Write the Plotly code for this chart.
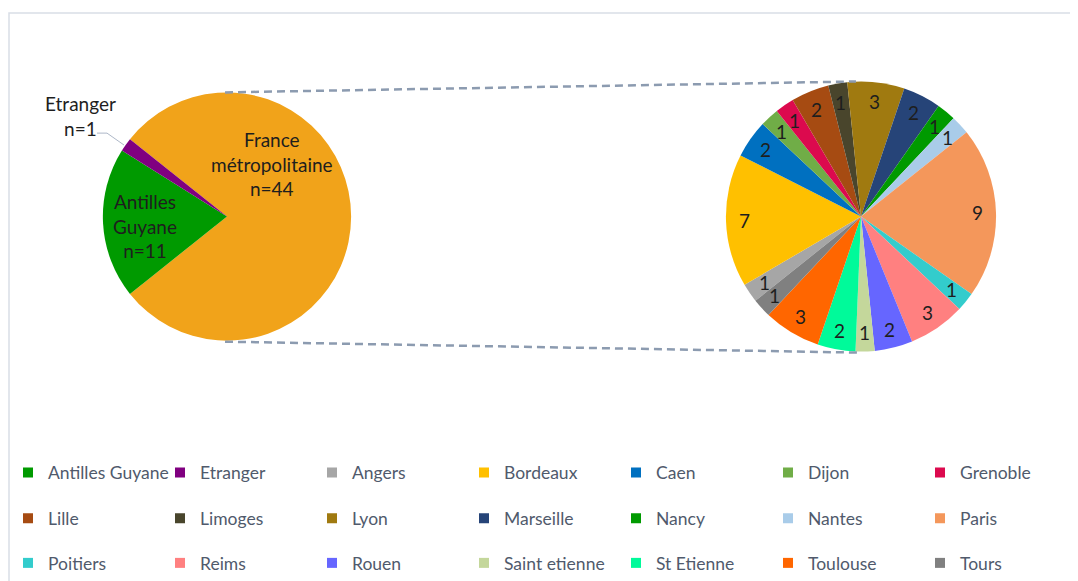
import math
import plotly.graph_objects as go

# primary pie
main_labels = ["France métropolitaine", "Antilles Guyane", "Etranger"]
main_values = [44, 11, 1]
main_colors = ["#F1A31A", "#009A00", "#800080"]

# secondary pie: breakdown of France métropolitaine
city_labels = ["Angers", "Bordeaux", "Caen", "Dijon", "Grenoble", "Lille",
               "Limoges", "Lyon", "Marseille", "Nancy", "Nantes", "Paris",
               "Poitiers", "Reims", "Rouen", "Saint etienne", "St Etienne",
               "Toulouse", "Tours"]
city_values = [1, 7, 2, 1, 1, 2, 1, 3, 2, 1, 1, 9, 1, 3, 2, 1, 2, 3, 1]
city_colors = ["#A6A6A6", "#FFC000", "#0070C0", "#70AD47", "#DC0A4E", "#A64B12",
               "#49452C", "#A07A10", "#264478", "#009A00", "#A9CCE9", "#F4975B",
               "#33CCCC", "#FF8080", "#6666FF", "#C4D79B", "#00FA9A",
               "#FF6600", "#808080"]

# page body has an 8px margin, so the figure is drawn 8px in from the window
OFF = 8
W, H = 1078 - OFF, 581 - OFF
FONT = "Lato"
TXT = "#1E1E1E"

# pixel geometry of the two pies (window coordinates)
L_CX, L_CY, L_R = 227, 218, 125
R_CX, R_CY, R_R = 861, 218, 136

main_start = 90 - 360 * main_values[0] / sum(main_values) / 2   # big slice centred on 3 o'clock
city_start = main_start + 360 * main_values[0] / sum(main_values)


def P(x, y):
    return (x - OFF) / W, 1 - (y - OFF) / H


def dom(cx, cy, r):
    xa, ya = P(cx - r, cy + r)
    xb, yb = P(cx + r, cy - r)
    return dict(x=[xa, xb], y=[ya, yb])


fig = go.Figure()

fig.add_trace(go.Pie(
    labels=main_labels, values=main_values, sort=False, direction="clockwise",
    rotation=main_start, marker=dict(colors=main_colors, line=dict(width=0)),
    textinfo="none", showlegend=False, domain=dom(L_CX, L_CY, L_R),
))

fig.add_trace(go.Pie(
    labels=city_labels, values=city_values, sort=False, direction="clockwise",
    rotation=city_start, marker=dict(colors=city_colors, line=dict(width=0)),
    textinfo="none", showlegend=False, domain=dom(R_CX, R_CY, R_R),
))

# legend entries (France métropolitaine is left out, as in the original)
leg_labels = main_labels[1:] + city_labels
leg_colors = main_colors[1:] + city_colors
for i, (lab, col) in enumerate(zip(leg_labels, leg_colors)):
    row = i // 7
    fig.add_trace(go.Scatter(
        x=[None], y=[None], mode="markers", name=lab,
        marker=dict(symbol="square", size=10, color=col),
        legend="legend" if row == 0 else f"legend{row + 1}",
    ))

annotations = []


def label(txt, px, py, size=19):
    x, y = P(px, py)
    annotations.append(dict(x=x, y=y, xref="paper", yref="paper", text=txt,
                            showarrow=False, xanchor="center", yanchor="middle",
                            font=dict(size=size, color=TXT, family=FONT)))


# value labels on the secondary pie
total = sum(city_values)
acc = 0
for v in city_values:
    mid = math.radians(city_start + 360 * (acc + v / 2) / total)
    acc += v
    label(str(v), R_CX + 0.86 * R_R * math.sin(mid), R_CY - 0.86 * R_R * math.cos(mid))

# category labels on the primary pie
label("France<br>métropolitaine<br>n=44", 272, 165)
label("Antilles<br>Guyane<br>n=11", 145, 228)
label("Etranger<br>n=1", 80, 117)

shapes = []
# chart border (only top and left are visible)
x0, y0 = P(9, 13)
x1, y1 = P(1100, 600)
shapes.append(dict(type="rect", xref="paper", yref="paper", x0=x0, y0=y0, x1=x1, y1=y1,
                   line=dict(color="#D9DEE6", width=1.5), layer="below"))
# connector lines
for (ax, ay), (bx, by) in [((225, 93), (856, 82)), ((225, 344), (857, 355))]:
    xa, ya = P(ax, ay)
    xb, yb = P(bx, by)
    shapes.append(dict(type="line", xref="paper", yref="paper", x0=xa, y0=ya, x1=xb, y1=yb,
                       line=dict(color="#8C9BB0", width=2.5, dash="8px,5px")))
# leader line for Etranger
p1, p2, p3 = P(97, 134), P(107, 134), P(124, 146)
shapes.append(dict(type="path", xref="paper", yref="paper",
                   path=f"M {p1[0]},{p1[1]} L {p2[0]},{p2[1]} L {p3[0]},{p3[1]}",
                   line=dict(color="#AEB8C8", width=1)))

legend_common = dict(orientation="h", xanchor="left", yanchor="middle", x=0,
                     entrywidth=107, entrywidthmode="pixels", itemwidth=30,
                     font=dict(size=17.5, color="#505A6C", family=FONT),
                     bgcolor="rgba(0,0,0,0)", itemclick=False, itemdoubleclick=False)

fig.update_layout(
    width=W, height=H,
    margin=dict(l=0, r=0, t=0, b=0),
    paper_bgcolor="white", plot_bgcolor="white",
    font=dict(family=FONT),
    xaxis=dict(visible=False), yaxis=dict(visible=False),
    legend=dict(legend_common, y=P(0, 476)[1]),
    legend2=dict(legend_common, y=P(0, 522)[1]),
    legend3=dict(legend_common, y=P(0, 567)[1]),
    annotations=annotations,
    shapes=shapes,
)

fig.write_html("out.html")
